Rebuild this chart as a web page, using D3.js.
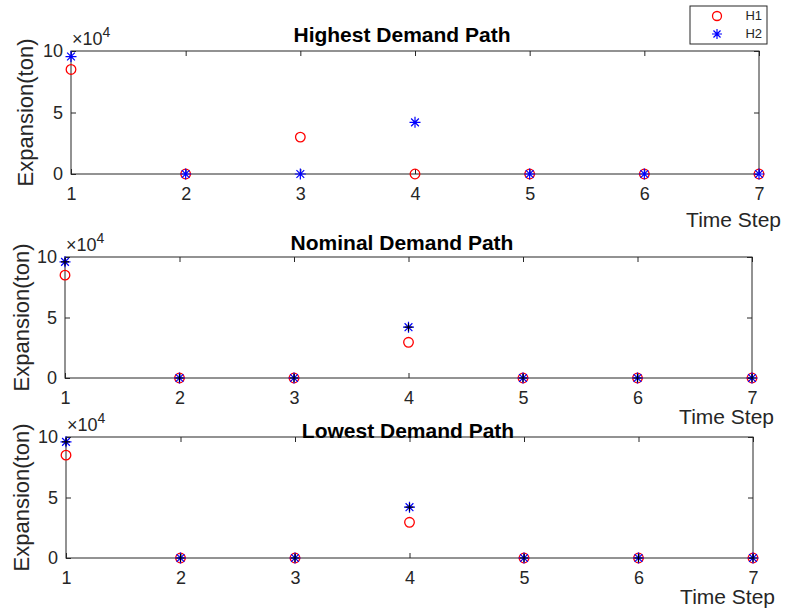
<!DOCTYPE html>
<meta charset="utf-8">
<style>
body { margin: 0; background: #fff; }
svg text { font-family: "Liberation Sans", Arial, sans-serif; fill: #262626; }
.tick text { font-size: 18px; }
.ttl { font-size: 21px; font-weight: bold; fill: #000; }
.ylab { font-size: 22px; }
.xlab { font-size: 21px; }
</style>
<body>
<script src="https://cdn.jsdelivr.net/npm/d3@7"></script>
<script>

// time steps on the x axis
var timeSteps = [1, 2, 3, 4, 5, 6, 7];
var yTicks = [0, 50000, 100000];

// expansion (ton) per time step
var highH1 = [85000, 0, 30000, 0, 0, 0, 0];
var highH2 = [95500, 0, 0, 42000, 0, 0, 0];
var nomH1 = [85000, 0, 0, 29500, 0, 0, 0];
var nomH2 = [96000, 0, 0, 42000, 0, 0, 0];
var lowH1 = [85000, 0, 0, 29500, 0, 0, 0];
var lowH2 = [96000, 0, 0, 42000, 0, 0, 0];

var titles = ["Highest Demand Path", "Nominal Demand Path", "Lowest Demand Path"];

var svg = d3.select("body").append("svg")
    .attr("width", 786)
    .attr("height", 614);

// panel boxes (px)
var panels = [
  {left: 71, right: 759, top: 51, bottom: 174, h1: highH1, h2: highH2, dark: false, ylab: 33, xlab: 53, tx: 402, ty: 42},
  {left: 65, right: 752, top: 257, bottom: 378, h1: nomH1, h2: nomH2, dark: true, ylab: 29, xlab: 46, tx: 402, ty: 250},
  {left: 66, right: 753, top: 437, bottom: 558, h1: lowH1, h2: lowH2, dark: true, ylab: 29, xlab: 46, tx: 408, ty: 438}
];

// MATLAB style asterisk and plus
function star(r) {
  var d = r * Math.SQRT1_2;
  return "M" + (-r) + ",0L" + r + ",0M0," + (-r) + "L0," + r +
         "M" + (-d) + "," + (-d) + "L" + d + "," + d +
         "M" + (-d) + "," + d + "L" + d + "," + (-d);
}
function plus(r) {
  return "M" + (-r) + ",0L" + r + ",0M0," + (-r) + "L0," + r;
}

panels.forEach(function(p, i) {
  var x = d3.scaleLinear().domain([1, 7]).range([p.left, p.right]);
  var y = d3.scaleLinear().domain([0, 100000]).range([p.bottom, p.top]);

  var g = svg.append("g");

  // box
  g.append("rect")
      .attr("x", p.left).attr("y", p.top)
      .attr("width", p.right - p.left).attr("height", p.bottom - p.top)
      .attr("fill", "#fff")
      .attr("stroke", "#262626");

  // x axis
  var xa = g.append("g")
      .attr("transform", "translate(0," + p.bottom + ")")
      .call(d3.axisBottom(x).tickValues(timeSteps).tickSize(-5).tickPadding(13).tickFormat(d3.format("d")));
  xa.select(".domain").remove();
  xa.selectAll("line").attr("stroke", "#262626");
  g.append("g")
      .attr("transform", "translate(0," + p.top + ")")
      .call(d3.axisTop(x).tickValues(timeSteps).tickSize(-5).tickFormat(""))
      .call(function(s) { s.select(".domain").remove(); s.selectAll("line").attr("stroke", "#262626"); });

  // y axis
  var ya = g.append("g")
      .attr("transform", "translate(" + p.left + ",0)")
      .call(d3.axisLeft(y).tickValues(yTicks).tickSize(-5).tickPadding(8).tickFormat(function(d) { return d / 10000; }));
  ya.select(".domain").remove();
  ya.selectAll("line").attr("stroke", "#262626");
  g.append("g")
      .attr("transform", "translate(" + p.right + ",0)")
      .call(d3.axisRight(y).tickValues(yTicks).tickSize(-5).tickFormat(""))
      .call(function(s) { s.select(".domain").remove(); s.selectAll("line").attr("stroke", "#262626"); });

  // exponent label
  var ex = g.append("text")
      .attr("x", p.left + 1)
      .attr("y", p.top - 6)
      .style("font-size", "18px");
  ex.append("tspan").text("\u00d710");
  ex.append("tspan").attr("dy", -8).style("font-size", "14px").text("4");

  // title
  g.append("text")
      .attr("class", "ttl")
      .attr("x", p.tx)
      .attr("y", p.ty)
      .attr("text-anchor", "middle")
      .text(titles[i]);

  // y label
  g.append("text")
      .attr("class", "ylab")
      .attr("transform", "translate(" + p.ylab + "," + ((p.top + p.bottom) / 2) + ") rotate(-90)")
      .attr("text-anchor", "middle")
      .text("Expansion(ton)");

  // x label
  g.append("text")
      .attr("class", "xlab")
      .attr("x", p.right + 22)
      .attr("y", p.bottom + p.xlab)
      .attr("text-anchor", "end")
      .text("Time Step");

  // H1 circles
  g.selectAll(".h1").data(p.h1).enter().append("circle")
      .attr("cx", function(d, j) { return x(timeSteps[j]); })
      .attr("cy", function(d) { return y(d); })
      .attr("r", 4.8)
      .attr("fill", "none")
      .attr("stroke", "#ff0000")
      .attr("stroke-width", 1.3);

  // H2 stars
  g.selectAll(".h2").data(p.h2).enter().append("path")
      .attr("transform", function(d, j) { return "translate(" + x(timeSteps[j]) + "," + y(d) + ")"; })
      .attr("d", star(5.5))
      .attr("stroke", "#0000ff")
      .attr("stroke-width", 1.2)
      .attr("fill", "none");

  if (p.dark) {
    g.selectAll(".h2d").data(p.h2).enter().append("path")
        .attr("transform", function(d, j) { return "translate(" + x(timeSteps[j]) + "," + y(d) + ")"; })
        .attr("d", plus(4))
        .attr("stroke", "#000")
        .attr("stroke-width", 1.2)
        .attr("fill", "none");
  }
});

// legend
var leg = svg.append("g");
leg.append("rect")
    .attr("x", 690).attr("y", 6)
    .attr("width", 77).attr("height", 38)
    .attr("fill", "#fff")
    .attr("stroke", "#262626");
leg.append("circle")
    .attr("cx", 717).attr("cy", 16).attr("r", 4.5)
    .attr("fill", "none").attr("stroke", "#ff0000").attr("stroke-width", 1.3);
leg.append("path")
    .attr("transform", "translate(717,34)")
    .attr("d", star(5))
    .attr("stroke", "#0000ff").attr("stroke-width", 1.2).attr("fill", "none");
leg.append("text").attr("x", 762).attr("y", 20).attr("text-anchor", "end")
    .style("font-size", "13px").text("H1");
leg.append("text").attr("x", 762).attr("y", 38).attr("text-anchor", "end")
    .style("font-size", "13px").text("H2");

</script>
</body>
